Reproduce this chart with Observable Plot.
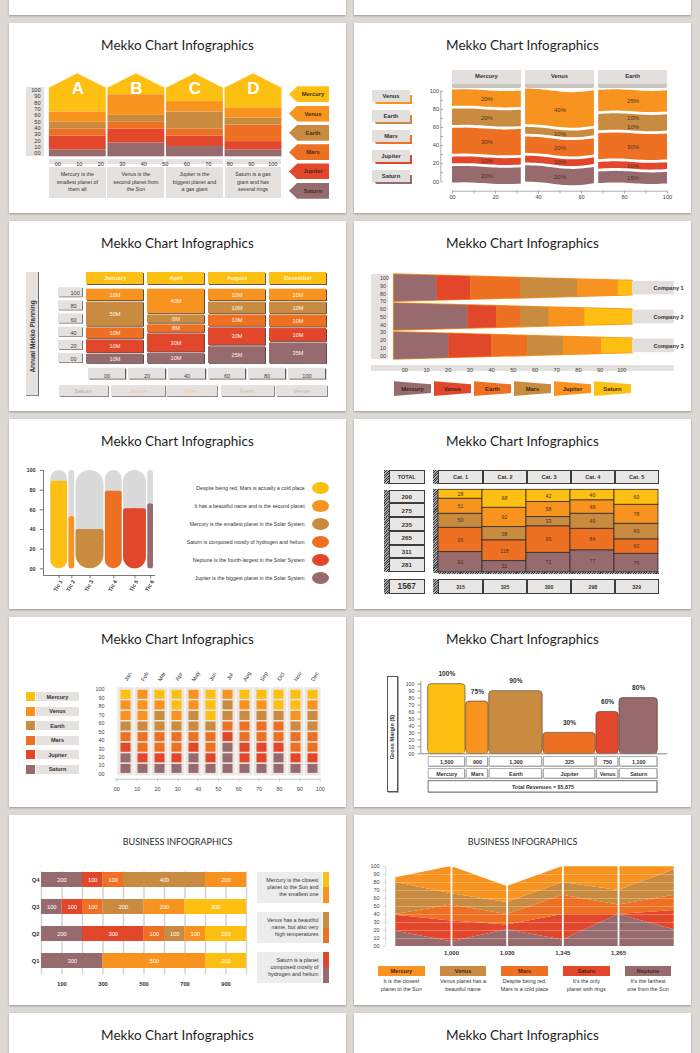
<!DOCTYPE html>
<html><head><meta charset="utf-8">
<script src="https://cdn.jsdelivr.net/npm/d3@7"></script>
<script src="https://cdn.jsdelivr.net/npm/@observablehq/plot@0.6"></script>
<style>
html,body{margin:0;padding:0}
body{width:700px;height:1053px;background:#dcd8d3;position:relative;overflow:hidden;font-family:'Liberation Sans',Arial,sans-serif;color:#333}
.panel{position:absolute;width:337px;height:190px;background:#fff;box-shadow:0 1px 2px rgba(0,0,0,.3);overflow:hidden}
.panel > svg{position:absolute;left:0;top:0}
.ttl{position:absolute;left:0;width:337px;text-align:center;font-family:Lato,'Open Sans',sans-serif;font-size:13.5px;line-height:16px;top:13.5px;color:#1e1e1e}
.ttl2{position:absolute;left:0;width:337px;text-align:center;font-family:Lato,'Open Sans',sans-serif;font-size:9px;line-height:10px;top:22px;color:#2a2a2a}
.bx{position:absolute;box-sizing:border-box;display:flex;align-items:center;justify-content:center;text-align:center}
</style></head><body><script>
// ---------------- palette
const YEL="#fdbf12", LOR="#f7931e", TAN="#c98b40", ORA="#ee7023", RED="#e2462b", MAU="#976a6e", BOXG="#e4e1de";
const planetColor={Mercury:YEL,Venus:LOR,Earth:TAN,Mars:ORA,Jupiter:RED,Saturn:MAU};
const SANS="'Liberation Sans', Arial, sans-serif";
const fmt2=d=>d===0?"00":String(d);

// ---------------- data: panel 1 (Mekko houses)
const p1Columns=["A","B","C","D"];
const p1Series=["Saturn","Jupiter","Mars","Earth","Venus","Mercury"];
const p1Shares=[[10,20,10,10,15,35],[20,20,10,10,30,10],[15,15,10,25,15,20],[10,12,24,10,15,29]];
const p1YTicks=[0,10,20,30,40,50,60,70,80,90,100];
const p1XTicks=[0,10,20,30,40,50,60,70,80,90,100];
const p1Notes=[["Mercury is the","smallest planet of","them all"],["Venus is the","second planet from","the Sun"],["Jupiter is the","biggest planet and","a gas giant"],["Saturn is a gas","giant and has","several rings"]];
const p1Legend=["Mercury","Venus","Earth","Mars","Jupiter","Saturn"];

// ---------------- data: panel 2 (wavy mekko)
const p2Columns=["Mercury","Venus","Earth"];
const p2Series=[["Saturn","Jupiter","Mars","Earth","Venus"],["Saturn","Jupiter","Mars","Earth","Venus"],["Saturn","Jupiter","Mars","Earth","Earth","Venus"]];
const p2Values=[[20,10,30,20,20],[20,10,20,10,40],[15,10,30,10,10,25]];
const p2Legend=["Venus","Earth","Mars","Jupiter","Saturn"];
const p2YTicks=[0,20,40,60,80,100];
const p2XTicks=[0,20,40,60,80,100];

// ---------------- data: panel 3 (annual planning)
const p3Months=["January","April","August","December"];
const p3Series=["Saturn","Jupiter","Mars","Earth","Venus"];
const p3Labels=[["10M","10M","10M","50M","10M"],["10M","30M","8M","8M","40M"],["25M","30M","10M","10M","10M"],["35M","10M","10M","10M","10M"]];
const p3Shares=[[14,19,16,34,17],[15,26,12,13,34],[24,25,17,17,17],[29,19,18,17,17]];
const p3YTicks=[100,80,60,40,20,0];
const p3XTicks=["00","20","40","60","80","100"];
const p3Legend=["Saturn","Jupiter","Mars","Earth","Venus"];

// ---------------- data: panel 4 (companies)
const p4Companies=["Company 1","Company 2","Company 3"];
const p4Series=["Mercury","Venus","Earth","Mars","Jupiter","Saturn"];
const p4Shares=[[18,14,21,24,17,6],[31,12,10,12,15,20],[23,18,15,15,16,13]];
const p4Colors=[MAU,RED,ORA,TAN,LOR,YEL];
const p4YTicks=[0,10,20,30,40,50,60,70,80,90,100];
const p4XTicks=[0,10,20,30,40,50,60,70,80,90,100];

// ---------------- data: panel 5 (pills)
const p5Tics=["Tic 1","Tic 2","Tic 3","Tic 4","Tic 5","Tic 6"];
const p5Widths=[18,7,29,18,24,7];
const p5Values=[89,53,40,79,61,66];
const p5Colors=[YEL,LOR,TAN,ORA,RED,MAU];
const p5YTicks=[0,20,40,60,80,100];
const p5Notes=["Despite being red, Mars is actually a cold place","It has a beautiful name and is the second planet","Mercury is the smallest planet in the Solar System","Saturn is composed mostly of hydrogen and helium","Neptune is the fourth-largest in the Solar System","Jupiter is the biggest planet in the Solar System"];

// ---------------- data: panel 6 (table)
const p6Cats=["Cat. 1","Cat. 2","Cat. 3","Cat. 4","Cat. 5"];
const p6Values=[[28,51,50,95,91],[68,92,38,118,32],[42,58,33,95,72],[40,48,49,84,77],[60,78,60,60,75]];
const p6Shares=[[27,45,42,73,60],[54,58,40,62,33],[37,45,28,79,58],[32,40,45,65,65],[45,57,47,43,55]];
const p6Colors=[YEL,LOR,TAN,ORA,MAU];
const p6RowTotals=[200,275,235,265,311,281];
const p6ColTotals=[315,325,300,298,329];
const p6GrandTotal=1567;

// ---------------- data: panel 7 (monthly squares)
const p7Months=["Jan","Feb","Mar","Apr","May","Jun","Jul","Aug","Sep","Oct","Nov","Dec"];
const p7Cells=[ // top -> bottom, 8 cells of 12.5 %
 ["Mercury","Venus","Venus","Earth","Mars","Jupiter","Saturn","Saturn"],
 ["Venus","Venus","Venus","Earth","Mars","Mars","Jupiter","Saturn"],
 ["Mercury","Venus","Earth","Earth","Mars","Mars","Jupiter","Saturn"],
 ["Mercury","Mercury","Venus","Earth","Mars","Mars","Jupiter","Saturn"],
 ["Venus","Venus","Earth","Earth","Mars","Jupiter","Saturn","Saturn"],
 ["Mercury","Mercury","Mercury","Earth","Mars","Mars","Jupiter","Saturn"],
 ["Venus","Earth","Earth","Mars","Jupiter","Saturn","Saturn","Saturn"],
 ["Mercury","Venus","Earth","Mars","Mars","Jupiter","Jupiter","Saturn"],
 ["Mercury","Venus","Earth","Mars","Mars","Jupiter","Jupiter","Saturn"],
 ["Mercury","Mercury","Earth","Mars","Mars","Jupiter","Saturn","Saturn"],
 ["Mercury","Mercury","Venus","Earth","Mars","Mars","Jupiter","Saturn"],
 ["Mercury","Venus","Earth","Earth","Mars","Mars","Jupiter","Saturn"]];
const p7Legend=["Mercury","Venus","Earth","Mars","Jupiter","Saturn"];
const p7YTicks=[0,10,20,30,40,50,60,70,80,90,100];
const p7XTicks=[0,10,20,30,40,50,60,70,80,90,100];

// ---------------- data: panel 8 (gross margin)
const p8Planets=["Mercury","Mars","Earth","Jupiter","Venus","Saturn"];
const p8Margin=[100,75,90,30,60,80];
const p8Revenue=[1500,900,1300,325,750,1100];
const p8Widths=[38,23,54,53,23,39];
const p8Colors=[YEL,LOR,TAN,ORA,RED,MAU];
const p8YTicks=[0,10,20,30,40,50,60,70,80,90,100];

// ---------------- data: panel 9 (quarters)
const p9Quarters=["Q4","Q3","Q2","Q1"];
const p9Series=[["Saturn","Jupiter","Mars","Earth","Venus"],["Saturn","Jupiter","Mars","Earth","Venus","Mercury"],["Saturn","Jupiter","Mars","Earth","Venus","Mercury"],["Saturn","Venus","Mercury"]];
const p9Values=[[200,100,100,400,200],[100,100,100,200,200,300],[200,300,100,100,100,200],[300,500,200]];
const p9XTicks=[100,300,500,700,900];
const p9Notes=[["Mercury is the closest","planet to the Sun and","the smallest one"],["Venus has a beautiful","name, but also very","high temperatures"],["Saturn is a planet","composed mostly of","hydrogen and helium"]];

// ---------------- data: panel 10 (area mekko)
const p10Series=["Neptune","Saturn","Mars","Venus","Mercury"];
const p10Colors=[MAU,RED,ORA,TAN,LOR];
const p10Thickness=[[19,6,21,8,40,21],[20,26,6,32,0,24],[1,20,13,24,12,19],[40,14,15,16,18,32],[6,34,20,20,30,4]];
const p10Labels=["1,000","1,030","1,345","1,265"];
const p10YTicks=[0,10,20,30,40,50,60,70,80,90,100];
const p10Legend=["Mercury","Venus","Mars","Saturn","Neptune"];
const p10Notes=[["It is the closest","planet to the Sun"],["Venus planet has a","beautiful name"],["Despite being red,","Mars is a cold place"],["It's the only","planet with rings"],["It's the farthest","one from the Sun"]];

// ---------------- helpers
function panel(col,row){const d=document.createElement("div");d.className="panel";d.style.left=(col?354:9)+"px";d.style.top=(23+198*row)+"px";document.body.appendChild(d);return d;}
function title(p,t,small){const d=document.createElement("div");d.className=small?"ttl2":"ttl";d.textContent=t;p.appendChild(d);}
function box(p,x,y,w,h,css,html){const d=document.createElement("div");d.className="bx";d.style.cssText+=`left:${x}px;top:${y}px;width:${w}px;height:${h}px;`+(css||"");if(html!=null)d.innerHTML="<span>"+html+"</span>";p.appendChild(d);return d;}
function lin(d0,d1,r0,r1){return {type:"linear",domain:[d0,d1],range:[r0,r1],axis:null};}
function inv(s,px){const [d0,d1]=s.domain,[r0,r1]=s.range;return d0+(px-r0)*(d1-d0)/(r1-r0);}
function draw(p,x,y,marks){const o={width:337,height:190,margin:0,style:{background:"none",overflow:"visible",fontFamily:SANS},color:{type:"identity"},marks};if(x)o.x=x;if(y)o.y=y;const s=Plot.plot(o);p.appendChild(s);return s;}

// partial panels top
panel(0,-1);panel(1,-1);

// ================= PANEL 1
{
const p=panel(0,0);title(p,"Mekko Chart Infographics");
const X=lin(0,100,39,273.3),Y=lin(0,100,133.3,64.3);
const ux=(273.3-39)/100,ins=0.85/ux;
box(p,17.3,64,17.4,69,`background:${BOXG}`);
p1Columns.forEach((c,i)=>{const l=39+i*25*ux+0.85,w=25*ux-1.7;
 box(p,l,135.7,w,5.6,`background:${BOXG}`);
 box(p,l,143.7,w,31.3,`background:${BOXG};font-size:5.3px;line-height:7.6px;color:#333`,p1Notes[i].join("<br>"));});
p1Legend.forEach((s,i)=>{const c=71.3+i*19.28;box(p,280,c-8,40,16,`background:${planetColor[s]};clip-path:polygon(0 50%,8.3px 0,100% 0,100% 100%,8.3px 100%);padding-left:8px;font-size:5.8px;font-weight:bold;color:#4a2b18`,s);});
const cells=p1Columns.flatMap((c,i)=>{const cs=d3.cumsum(p1Shares[i]);return p1Series.map((s,j)=>({s,x1:i*25,x2:i*25+25,y1:cs[j]-p1Shares[i][j],y2:cs[j]}));});
const peak=inv(Y,50.3);
const roof=p1Columns.flatMap((c,i)=>[{c,x:i*25+ins,y:99.5},{c,x:i*25+12.5,y:peak},{c,x:i*25+25-ins,y:99.5}]);
draw(p,X,Y,[
 Plot.rect(cells,{x1:"x1",x2:"x2",y1:"y1",y2:"y2",fill:d=>planetColor[d.s],insetLeft:0.85,insetRight:0.85}),
 Plot.areaY(roof,{x:"x",y1:99,y2:"y",z:"c",fill:YEL,curve:"linear"}),
 Plot.text(p1Columns,{x:(d,i)=>i*25+12.5,y:inv(Y,65.5),text:d=>d,fill:"#fff",fontSize:17,fontWeight:"bold"})
]);
draw(p,null,lin(0,100,130,66.7),[Plot.text(p1YTicks,{y:d=>d,text:fmt2,frameAnchor:"left",dx:31,textAnchor:"end",fontSize:5.6,fill:"#333"})]);
draw(p,lin(0,100,48.3,263.3),null,[Plot.text(p1XTicks,{x:d=>d,text:fmt2,frameAnchor:"top",dy:138.6,fontSize:5.6,fill:"#333"})]);
}

// ================= PANEL 2
{
const p=panel(1,0);title(p,"Mekko Chart Infographics");
const X=lin(0,100,98,313),Y=lin(0,100,161.5,65.6),pxu=(161.5-65.6)/100,gap=1.4/pxu;
const colX=[[0,32],[34,66],[68,100]];
const waves=[[-0.5,-1,0.3,1.3,0.6],[-1.5,-1,1.8,2.6,0.2],[0,-1,0,1.3,0.3]];
const areas=[],labels=[];
p2Columns.forEach((c,i)=>{
 const w=d3.interpolateBasis(waves[i]),[a,b]=colX[i],vals=p2Values[i],ser=p2Series[i],cs=d3.cumsum(vals);
 const bands=[];
 ser.forEach((s,j)=>{const lo=cs[j]-vals[j],hi=cs[j];
  if(bands.length&&bands[bands.length-1].s===s)bands[bands.length-1].hi=hi;else bands.push({s,lo,hi});
  labels.push({x:(a+b)/2,y:(lo+hi)/2-w(0.5)/pxu,t:vals[j]+"%"});});
 bands.forEach((bd,k)=>{for(let q=0;q<=20;q++){const t=q/20,o=w(t)/pxu;areas.push({key:c+k,s:bd.s,x:a+t*(b-a),y1:bd.lo+gap-o,y2:bd.hi-gap-o});}});
 const l=98+a*2.15,wd=(b-a)*2.15;
 box(p,l,60.5,wd,4,`background:#c9c4c0;border-radius:0 0 2px 2px`);
 box(p,l,47,wd,14,`background:#e2dfdc;font-size:5.8px;font-weight:bold;color:#333;padding-bottom:2px`,c);
});
p2Legend.forEach((s,i)=>{const c=74.3+i*19.85;
 box(p,21,c+4.5,37,2.6,`background:${planetColor[s]};border-radius:0 0 2px 2px`);
 box(p,55.5,c-2,2.8,9,`background:${planetColor[s]}`);
 box(p,18,c-7,38,12,`background:#e2dfdc;font-size:5.8px;font-weight:bold;color:#333`,s);});
draw(p,X,Y,[
 Plot.areaY(areas,{x:"x",y1:"y1",y2:"y2",z:"key",fill:d=>planetColor[d.s],curve:"linear"}),
 Plot.text(labels,{x:"x",y:"y",text:"t",fontSize:6,fill:"#4a3525"})
]);
const Y2=lin(0,100,158.3,67.7),ax=inv(X,86.3),bx=inv(Y2,167.7);
draw(p,X,Y2,[
 Plot.ruleX([ax],{y1:0,y2:100,stroke:"#999",strokeWidth:0.8}),
 Plot.ruleY(d3.range(0,101,10),{y:d=>d,x1:ax,x2:inv(X,89),stroke:"#999",strokeWidth:0.8}),
 Plot.text(p2YTicks,{y:d=>d,x:inv(X,84.5),text:fmt2,textAnchor:"end",fontSize:5.6,fill:"#444"}),
 Plot.ruleY([bx],{x1:0,x2:100,stroke:"#999",strokeWidth:0.8}),
 Plot.ruleX(d3.range(0,101,10),{x:d=>d,y1:bx,y2:inv(Y2,170.5),stroke:"#999",strokeWidth:0.8}),
 Plot.text(p2XTicks,{x:d=>d,y:inv(Y2,174),text:fmt2,fontSize:5.6,fill:"#444"})
]);
}

// ================= PANEL 3
{
const p=panel(0,1);title(p,"Mekko Chart Infographics");
const X={type:"band",domain:p3Months,range:[76.7,318],paddingInner:0.067,paddingOuter:0,axis:null},Y=lin(0,100,142.7,67);
box(p,17.3,51,12.4,124,`background:${BOXG};border-right:1.6px solid #6d6d6d;border-bottom:1.2px solid #888`,`<span style="display:inline-block;transform:rotate(-90deg);white-space:nowrap;font-weight:bold;font-size:6.4px;color:#333">Annual Mekko Planning</span>`);
const pale={Saturn:"#b9aaae",Jupiter:"#f2c8a4",Mars:"#f3c9a8",Earth:"#cfc4b8",Venus:"#bdb8b4"};
const lx=[[49.7,99],[102.3,155.7],[157.3,208],[211.7,264.7],[267.3,318]];
p3Legend.forEach((s,i)=>{const [a,b]=lx[i];
 box(p,a+1,165.3,b-a,10.7,`background:#8a8a8a`);
 box(p,a,164.3,b-a,10.7,`background:${BOXG};font-size:6px;color:${pale[s]}`,s);});
const cells=p3Months.flatMap((m,i)=>{const cs=d3.cumsum(p3Shares[i]);return p3Series.map((s,j)=>({m,s,t:p3Labels[i][j],y1:cs[j]-p3Shares[i][j],y2:cs[j]}));});
draw(p,X,Y,[
 Plot.barY(cells,{x:"m",y1:"y1",y2:"y2",fill:"#4d4d4d",dx:1,dy:0.8,insetTop:0.7,insetBottom:0.7}),
 Plot.barY(cells,{x:"m",y1:"y1",y2:"y2",fill:d=>planetColor[d.s],insetTop:0.7,insetBottom:0.7}),
 Plot.text(cells,{x:"m",y:d=>(d.y1+d.y2)/2,text:"t",fill:"#fff5e6",fontSize:5.6}),
 Plot.barY(p3Months,{x:d=>d,y1:inv(Y,63),y2:inv(Y,51),fill:"#5a5a5a",dx:1,dy:1}),
 Plot.barY(p3Months,{x:d=>d,y1:inv(Y,63),y2:inv(Y,51),fill:YEL}),
 Plot.text(p3Months,{x:d=>d,y:inv(Y,57),text:d=>d,fill:"#fff4d6",fontSize:5.8,fontWeight:"bold"})
]);
draw(p,null,lin(0,100,137.7,72),[
 Plot.rect(p3YTicks,{y1:d=>d-6.6,y2:d=>d+7.6,insetLeft:50,insetRight:337-74,fill:"#7a7a7a"}),
 Plot.rect(p3YTicks,{y1:d=>d-6.6,y2:d=>d+7.6,insetLeft:49,insetRight:337-73,fill:BOXG,dy:-0.8}),
 Plot.text(p3YTicks,{y:d=>d,text:fmt2,frameAnchor:"left",dx:61,fontSize:5.6,fill:"#444"})
]);
draw(p,{type:"band",domain:p3XTicks,range:[76.7,318],paddingInner:0.08,paddingOuter:0,axis:null},null,[
 Plot.cell(p3XTicks,{x:d=>d,fill:"#5a5a5a",insetTop:147.5,insetBottom:190-158.5,dx:1.2}),
 Plot.cell(p3XTicks,{x:d=>d,fill:BOXG,insetTop:146.7,insetBottom:190-157.7}),
 Plot.text(p3XTicks,{x:d=>d,text:d=>d,frameAnchor:"top",dy:152.2,fontSize:5.6,fill:"#444"})
]);
}

// ================= PANEL 4
{
const p=panel(1,1);title(p,"Mekko Chart Infographics");
const X=lin(0,100,39.7,278),Y=lin(0,100,134.3,57);
box(p,17.3,52.7,16.7,85,`background:${BOXG}`);
box(p,17.3,143.7,302.4,6.6,`background:${BOXG}`);
p4Series.forEach((s,i)=>{box(p,39.7+i*40,160.3,37.6,14.7,`background:${p4Colors[i]};clip-path:polygon(0 0,100% 20%,100% 80%,0 100%);font-size:5.8px;font-weight:bold;color:#3b2414`,s);});
const centers=[87.5,50.2,12.8],hL=17.5,hR=9.2,h=x=>hL+(hR-hL)*x/100;
const segs=[],outline=[];
p4Companies.forEach((c,i)=>{const cs=d3.cumsum(p4Shares[i]);
 p4Series.forEach((s,j)=>{const s0=cs[j]-p4Shares[i][j],s1=cs[j];
  [s0,s1].forEach(x=>segs.push({key:c+s,fill:p4Colors[j],x,y1:centers[i]-h(x),y2:centers[i]+h(x)}));});
 [0,100].forEach(x=>outline.push({c,x,y1:centers[i]-h(x),y2:centers[i]+h(x)}));});
draw(p,X,Y,[
 Plot.areaY(outline,{x:"x",y1:"y1",y2:"y2",z:"c",fill:LOR,stroke:LOR,strokeWidth:1.6,curve:"linear"}),
 Plot.areaY(segs,{x:"x",y1:"y1",y2:"y2",z:"key",fill:"fill",curve:"linear"}),
 Plot.rect(p4Companies,{y1:(d,i)=>centers[i]-8.7,y2:(d,i)=>centers[i]+8.7,insetLeft:278,insetRight:17.3,fill:"#e1dedb"}),
 Plot.text(p4Companies,{y:(d,i)=>centers[i],text:d=>d,frameAnchor:"left",dx:299,fontSize:5.6,fontWeight:"bold",fill:"#333"}),
 Plot.text(p4YTicks,{y:d=>d,text:fmt2,frameAnchor:"left",dx:25.6,fontSize:5.4,fill:"#444"})
]);
draw(p,lin(0,100,50.3,267.3),null,[Plot.text(p4XTicks,{x:d=>d,text:fmt2,frameAnchor:"top",dy:147,fontSize:5.6,fill:"#444"})]);
}

// ================= PANEL 5
{
const p=panel(0,2);title(p,"Mekko Chart Infographics");
const X=lin(0,103,40.6,144.7),Y=lin(0,100,149.3,51);
const pxX=(144.7-40.6)/103,pxY=(149.3-51)/100;
const cs=d3.cumsum(p5Widths);
const bars=p5Tics.map((t,i)=>({t,x1:cs[i]-p5Widths[i],x2:cs[i],v:p5Values[i],c:p5Colors[i],wpx:p5Widths[i]*pxX-1.4}));
p5Notes.forEach((n,i)=>{const c=68.7+i*18.12;
 box(p,120,c-4,175.7,8,`justify-content:flex-end;text-align:right;font-size:5.2px;color:#333;white-space:nowrap`,n);
 box(p,303,c-6,16.7,12,`background:${p5Colors[i]};border-radius:50%`);});
const ax=inv(X,34),axY=inv(Y,156);
const marks=bars.flatMap(b=>[
 Plot.rect([b],{x1:"x1",x2:"x2",y1:0,y2:100,fill:"#dadada",insetLeft:0.7,insetRight:0.7,rx:b.wpx/2}),
 Plot.rect([b],{x1:"x1",x2:"x2",y1:0,y2:"v",fill:"c",insetLeft:0.7,insetRight:0.7,rx:b.wpx/2}),
 Plot.rect([b],{x1:"x1",x2:"x2",y1:d=>Math.max(d.v/2,d.v-(b.wpx/2+1)/pxY),y2:"v",fill:"c",insetLeft:0.7,insetRight:0.7,rx:2.2})
]);
draw(p,X,Y,[...marks,
 Plot.ruleX([ax],{y1:axY,y2:100,stroke:"#555",strokeWidth:0.8}),
 Plot.ruleY(p5YTicks,{y:d=>d,x1:inv(X,30.8),x2:ax,stroke:"#555",strokeWidth:0.8}),
 Plot.text(p5YTicks,{y:d=>d,x:inv(X,26),text:fmt2,textAnchor:"end",fontSize:5.4,fontWeight:"bold",fill:"#333"}),
 Plot.ruleY([axY],{x1:ax,x2:inv(X,146),stroke:"#555",strokeWidth:0.8}),
 Plot.ruleX(bars,{x:d=>(d.x1+d.x2)/2,y1:axY,y2:inv(Y,159.3),stroke:"#555",strokeWidth:0.8}),
 Plot.text(bars,{x:d=>(d.x1+d.x2)/2,y:inv(Y,161),text:"t",rotate:-60,textAnchor:"end",dx:2,fontSize:5.4,fontWeight:"bold",fill:"#333"})
]);
}

// ================= PANEL 6
{
const p=panel(1,2);title(p,"Mekko Chart Infographics");
const hatch="background:repeating-linear-gradient(135deg,#3a3a3a 0 0.8px,#a5a5a5 0.8px 1.8px)";
const face=fs=>`background:#e9e7e5;border:0.8px solid #3d3d3d;border-bottom:1.8px solid #3d3d3d;font-weight:bold;font-size:${fs}px;color:#333`;
const catX=[84,129,173,217,260.7,304.7];
box(p,29.7,51,5,14.3,hatch);box(p,34.7,51,36,14.3,face(5.6),"TOTAL");
box(p,79,51,5,14.3,hatch);
p6Cats.forEach((c,i)=>box(p,catX[i],51,catX[i+1]-catX[i],14.3,face(5.6),c));
const rowY=[71,84.3,98.2,111.9,125.6,139.3,152.7];
p6RowTotals.forEach((v,i)=>{box(p,29.7,rowY[i],5,rowY[i+1]-rowY[i],hatch);box(p,34.7,rowY[i],36,rowY[i+1]-rowY[i],face(6.2),v);});
box(p,79,70.3,5,84,hatch);box(p,84,152.7,220.7,2,hatch);
box(p,29.7,160.3,5,14.7,hatch);box(p,34.7,160.3,36,14.7,face(8.2),p6GrandTotal);
box(p,79,160.3,5,14.7,hatch);
p6ColTotals.forEach((v,i)=>box(p,catX[i],160.3,catX[i+1]-catX[i],14.7,face(5.2),v));
const X={type:"band",domain:p6Cats,range:[84,304.7],padding:0,axis:null},Y=lin(0,247,152.7,70.3);
const cells=p6Cats.flatMap((c,i)=>{let top=247;return p6Values[i].map((v,j)=>{const h=p6Shares[i][j];const o={c,v,fill:p6Colors[j],y2:top,y1:top-h};top-=h;return o;});});
draw(p,X,Y,[
 Plot.barY(cells,{x:"c",y1:"y1",y2:"y2",fill:"fill",stroke:"#2d2d2d",strokeWidth:0.8}),
 Plot.text(cells,{x:"c",y:d=>(d.y1+d.y2)/2,text:"v",fill:"#4a3320",fontSize:5.2})
]);
}

// ================= PANEL 7
{
const p=panel(0,3);title(p,"Mekko Chart Infographics");
p7Legend.forEach((s,i)=>{const t=75+i*14.53;
 box(p,17.3,t,8.4,9.3,`background:${planetColor[s]}`);
 box(p,27.3,t,42.4,9.3,`background:${BOXG};font-size:5.6px;font-weight:bold;color:#333`,s);});
const X={type:"band",domain:p7Months,range:[108.2,312.5],padding:0,axis:null},Y=lin(0,100,156.7,72);
const cells=p7Months.flatMap((m,i)=>p7Cells[i].map((s,j)=>({m,s,lo:(7-j)*12.5})));
draw(p,X,Y,[
 Plot.barY(p7Months,{x:d=>d,y1:-2,y2:102,fill:"#ebe6e1",insetLeft:0.5,insetRight:0.5}),
 Plot.barY(cells,{x:"m",y1:"lo",y2:d=>d.lo+12.5,fill:d=>planetColor[d.s],insetLeft:3.5,insetRight:3.5,insetTop:0.8,insetBottom:0.8}),
 Plot.text(p7Months,{x:d=>d,text:d=>d,frameAnchor:"top",dy:58,rotate:-60,fontSize:5.6,fill:"#333"}),
 Plot.text(p7YTicks,{y:d=>d,text:fmt2,frameAnchor:"left",dx:95,textAnchor:"end",fontSize:5.4,fill:"#444"})
]);
const X2=lin(0,100,107.3,310.7),bl=inv(Y,161.7);
draw(p,X2,Y,[
 Plot.ruleY([bl],{x1:-1,x2:100,stroke:"#bbb",strokeWidth:0.8}),
 Plot.ruleX(p7XTicks,{x:d=>d,y1:bl,y2:inv(Y,164.5),stroke:"#bbb",strokeWidth:0.8}),
 Plot.text(p7XTicks,{x:d=>d,y:inv(Y,171.7),text:fmt2,fontSize:5.4,fill:"#444"})
]);
}

// ================= PANEL 8
{
const p=panel(1,3);title(p,"Mekko Chart Infographics");
box(p,33,59.3,11,115.7,`background:#fff;border:0.9px solid #555;box-shadow:1px 1px 0 #aaa`,`<span style="display:inline-block;transform:rotate(-90deg);white-space:nowrap;font-weight:bold;font-size:5.6px;color:#333">Gross Margin ($)</span>`);
const tot=d3.sum(p8Widths);
const X=lin(0,tot,73.3,303.7),Y=lin(0,100,136.3,66.7);
const cs=d3.cumsum(p8Widths);
const bars=p8Planets.map((n,i)=>({n,x1:cs[i]-p8Widths[i],x2:cs[i],v:p8Margin[i],c:p8Colors[i],rev:p8Revenue[i]}));
const ax=inv(X,66.3),f=d3.format(",");
const rows=[[139.7,149],[151.7,161]];
draw(p,X,Y,[
 Plot.rect(bars,{x1:"x1",x2:"x2",y1:0,y2:"v",fill:"c",stroke:"#5e4b3c",strokeWidth:0.7,rx:3.5,insetLeft:0.35,insetRight:0.35}),
 Plot.rect(bars,{x1:"x1",x2:"x2",y1:0,y2:5,fill:"c",insetLeft:1,insetRight:1}),
 Plot.text(bars,{x:d=>(d.x1+d.x2)/2,y:"v",dy:-10,text:d=>d.v+"%",fontSize:6.6,fontWeight:"bold",fill:"#333"}),
 Plot.ruleX([ax],{y1:0,y2:inv(Y,64.3),stroke:"#777",strokeWidth:0.8}),
 Plot.ruleY(p8YTicks,{y:d=>d,x1:inv(X,63.6),x2:ax,stroke:"#777",strokeWidth:0.8}),
 Plot.text(p8YTicks,{y:d=>d,x:inv(X,60),text:fmt2,textAnchor:"end",fontSize:5.3,fill:"#444"}),
 Plot.ruleY([0],{x1:ax,x2:inv(X,313),stroke:"#777",strokeWidth:0.9}),
 ...rows.flatMap(([a,b],k)=>[
  Plot.rect(bars,{x1:"x1",x2:"x2",y1:inv(Y,b),y2:inv(Y,a),fill:"#b5b5b5",insetLeft:0.8,insetRight:0.8,dx:0.9,dy:0.9}),
  Plot.rect(bars,{x1:"x1",x2:"x2",y1:inv(Y,b),y2:inv(Y,a),fill:"#fff",stroke:"#8a8a8a",strokeWidth:0.7,insetLeft:0.8,insetRight:0.8}),
  Plot.text(bars,{x:d=>(d.x1+d.x2)/2,y:inv(Y,(a+b)/2),text:k?"n":d=>f(d.rev),fontWeight:"bold",fontSize:5.4,fill:"#333"})]),
 Plot.rect([tot],{x1:0,x2:d=>d,y1:inv(Y,175),y2:inv(Y,163.7),fill:"#b5b5b5",insetLeft:0.8,insetRight:0.8,dx:0.9,dy:0.9}),
 Plot.rect([tot],{x1:0,x2:d=>d,y1:inv(Y,175),y2:inv(Y,163.7),fill:"#fff",stroke:"#666",strokeWidth:0.9,insetLeft:0.8,insetRight:0.8}),
 Plot.text([tot],{x:d=>d/2,y:inv(Y,169.4),text:()=>"Total Revenues = $"+f(d3.sum(p8Revenue)),fontWeight:"bold",fontSize:5.4,fill:"#333"})
]);
}

// ================= PANEL 9
{
const p=panel(0,4);title(p,"BUSINESS INFOGRAPHICS",true);
const X=lin(0,1000,32,237),Y={type:"band",domain:p9Quarters,range:[56.7,153.7],paddingInner:0.451,paddingOuter:0,axis:null};
const segs=p9Quarters.flatMap((q,i)=>{const cs=d3.cumsum(p9Values[i]);return p9Series[i].map((s,j)=>({q,s,v:p9Values[i][j],x1:cs[j]-p9Values[i][j],x2:cs[j]}));});
const barC=[[YEL,LOR],[TAN,ORA],[RED,MAU]];
p9Notes.forEach((n,i)=>{const t=[56.7,97,136.7][i];
 box(p,248.3,t,64.7,31,`background:#ececec;justify-content:flex-end;text-align:right;padding-right:3.5px;font-size:5.4px;line-height:6.7px;color:#333`,n.join("<br>"));
 box(p,314,t,5.7,15.5,`background:${barC[i][0]}`);box(p,314,t+15.5,5.7,15.5,`background:${barC[i][1]}`);});
draw(p,X,Y,[
 Plot.ruleX(d3.range(0,1001,100),{x:d=>d,insetTop:56,insetBottom:190-159.3,stroke:"#d0d0d0",strokeWidth:1.4}),
 Plot.barX(segs,{x1:"x1",x2:"x2",y:"q",fill:d=>planetColor[d.s]}),
 Plot.text(segs,{x:d=>(d.x1+d.x2)/2,y:"q",text:"v",fill:"#fff",fontSize:5.8}),
 Plot.text(p9Quarters,{y:d=>d,text:d=>d,frameAnchor:"left",dx:22.3,fontWeight:"bold",fontSize:5.8,fill:"#333"}),
 Plot.text(p9XTicks,{x:d=>d,text:d=>d,frameAnchor:"top",dy:166.7,fontWeight:"bold",fontSize:5.8,fill:"#333"})
]);
}

// ================= PANEL 10
{
const p=panel(1,4);title(p,"BUSINESS INFOGRAPHICS",true);
const X=lin(0,5,41.3,319.7),Y=lin(0,100,131,51);
const rows=[];
for(let b=0;b<6;b++){let acc=0;p10Series.forEach((s,k)=>{const t=p10Thickness[k][b];rows.push({s,c:p10Colors[k],b,y1:acc,y2:acc+t});acc+=t;});}
const lx=[24,85.7,147.3,209,270.7];
p10Legend.forEach((s,i)=>{
 box(p,lx[i],151,46.7,10,`background:${p10Colors[4-i]};font-size:5.6px;font-weight:bold;color:#3a2a20`,s);
 box(p,lx[i]-8,163,62.7,15,`font-size:5.4px;line-height:7.3px;color:#333`,p10Notes[i].join("<br>"));});
const ax=inv(X,31.3);
draw(p,X,Y,[
 Plot.areaY(rows,{x:"b",y1:"y1",y2:"y2",z:"s",fill:"c",curve:"linear"}),
 Plot.ruleY(d3.range(10,101,10),{y:d=>d,x1:0,x2:5,stroke:"#fff",strokeOpacity:0.35,strokeWidth:0.8}),
 Plot.ruleX([1,2,3,4],{x:d=>d,y1:0,y2:100,stroke:"#fff",strokeWidth:1.8}),
 Plot.ruleX([ax],{y1:0,y2:100,stroke:"#ccc",strokeWidth:0.8}),
 Plot.ruleY(p10YTicks,{y:d=>d,x1:inv(X,29),x2:ax,stroke:"#ccc",strokeWidth:0.8}),
 Plot.text(p10YTicks,{y:d=>d,x:inv(X,25),text:fmt2,textAnchor:"end",fontSize:5.4,fill:"#444"}),
 Plot.text(p10Labels,{x:(d,i)=>i+1,y:inv(Y,137.7),text:d=>d,fontWeight:"bold",fontSize:6,fill:"#333"})
]);
}

// partial panels bottom
{const p=panel(0,5);title(p,"Mekko Chart Infographics");}
{const p=panel(1,5);title(p,"Mekko Chart Infographics");}
</script></body></html>
